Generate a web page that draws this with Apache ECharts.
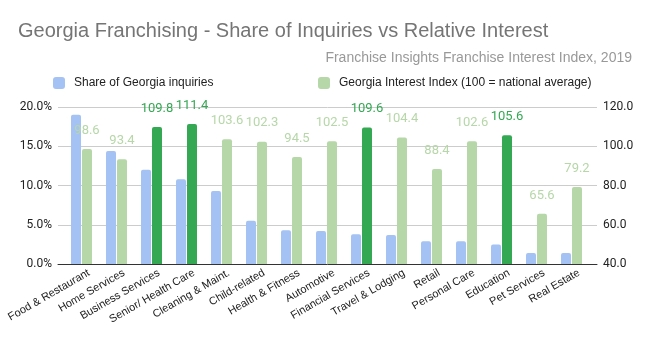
<!DOCTYPE html>
<html><head><meta charset="utf-8">
<script src="https://cdn.jsdelivr.net/npm/echarts@6/dist/echarts.min.js"></script>
<style>html,body{margin:0;padding:0;background:#fff}#c{width:650px;height:337px}</style>
</head><body><div id="c"></div>
<script>
const categories = ["Food & Restaurant","Home Services","Business Services","Senior/ Health Care","Cleaning & Maint.","Child-related","Health & Fitness","Automotive","Financial Services","Travel & Lodging","Retail","Personal Care","Education","Pet Services","Real Estate"];
const shareOfInquiries = [0.190,0.144,0.120,0.108,0.093,0.055,0.043,0.042,0.038,0.037,0.029,0.029,0.025,0.014,0.014];
const interestIndex = [98.6,93.4,109.8,111.4,103.6,102.3,94.5,102.5,109.6,104.4,88.4,102.6,105.6,65.6,79.2];
const highlighted = [false,false,true,true,false,false,false,false,true,false,false,false,true,false,false];
const leftTicks = [0,0.05,0.10,0.15,0.20];
const rightTicks = [40,60,80,100,120];

const BLUE='#a4c2f4', LIGHT='#b6d7a8', DARK='#34a853';
const TOP=107, BOTTOM=73;
const chart = echarts.init(document.getElementById('c'));
chart.setOption({
  animation:false,
  title:[
    {text:'Georgia Franchising - Share of Inquiries vs Relative Interest',left:13,top:16,
     textStyle:{fontFamily:'Liberation Sans',fontSize:20,fontWeight:'normal',color:'#757575'}},
    {text:'Franchise Insights Franchise Interest Index, 2019',right:13,top:46,
     textStyle:{fontFamily:'Liberation Sans',fontSize:14,fontWeight:'normal',color:'#999999'}}
  ],
  legend:[
    {data:['Share of Georgia inquiries'],left:48,top:72,itemWidth:12,itemHeight:12,icon:'roundRect',
     textStyle:{fontFamily:'Liberation Sans',fontSize:12,color:'#222',padding:[0,0,0,4]}},
    {data:['Georgia Interest Index (100 = national average)'],left:313,top:72,itemWidth:12,itemHeight:12,icon:'roundRect',
     textStyle:{fontFamily:'Liberation Sans',fontSize:12,color:'#222',padding:[0,0,0,4]}}
  ],
  grid:[
    {left:58,right:53,top:TOP,bottom:BOTTOM},
    {left:64,right:61,top:TOP,bottom:BOTTOM},
    {left:71.5,right:53.5,top:TOP,bottom:BOTTOM}
  ],
  xAxis:[
    {gridIndex:0,type:'value',min:0,max:1,axisLine:{show:true,onZero:false,lineStyle:{color:'#333',width:1}},
     axisTick:{show:false},axisLabel:{show:false},splitLine:{show:false}},
    {gridIndex:1,type:'category',data:categories,show:false},
    {gridIndex:2,type:'category',data:categories,
     axisLine:{show:false},axisTick:{show:false},splitLine:{show:false},
     axisLabel:{interval:0,rotate:30,fontFamily:'Liberation Sans',fontSize:11,color:'#222',margin:8}}
  ],
  yAxis:[
    {gridIndex:0,type:'value',min:leftTicks[0],max:leftTicks[leftTicks.length-1],interval:0.05,
     axisLine:{show:false},axisTick:{show:false},
     splitLine:{lineStyle:{color:'#cccccc'}},
     axisLabel:{formatter:v=>(v*100).toFixed(1)+'%',fontFamily:'Roboto',fontSize:12,color:'#222',margin:6}},
    {gridIndex:0,type:'value',position:'right',min:rightTicks[0],max:rightTicks[rightTicks.length-1],interval:20,
     axisLine:{show:false},axisTick:{show:false},splitLine:{show:false},
     axisLabel:{formatter:v=>v.toFixed(1),fontFamily:'Roboto',fontSize:12,color:'#222',margin:6}},
    {gridIndex:1,type:'value',min:leftTicks[0],max:leftTicks[leftTicks.length-1],show:false,splitLine:{show:false}},
    {gridIndex:1,type:'value',min:rightTicks[0],max:rightTicks[rightTicks.length-1],show:false,splitLine:{show:false}},
    {gridIndex:2,type:'value',show:false,splitLine:{show:false}}
  ],
  series:[
    {name:'Share of Georgia inquiries',type:'bar',xAxisIndex:1,yAxisIndex:2,data:shareOfInquiries,
     barWidth:10,barGap:'10%',itemStyle:{color:BLUE,borderRadius:[2,2,0,0]}},
    {name:'Georgia Interest Index (100 = national average)',type:'bar',xAxisIndex:1,yAxisIndex:3,
     barWidth:10,barGap:'10%',itemStyle:{color:LIGHT,borderRadius:[2,2,0,0]},
     data:interestIndex.map((v,i)=>({value:v,
        itemStyle:{color:highlighted[i]?DARK:LIGHT},
        label:{color:highlighted[i]?DARK:LIGHT}})),
     label:{show:true,position:'top',distance:12,fontFamily:'Roboto',fontSize:13,formatter:p=>p.value.toFixed(1)}}
  ]
});
</script></body></html>
